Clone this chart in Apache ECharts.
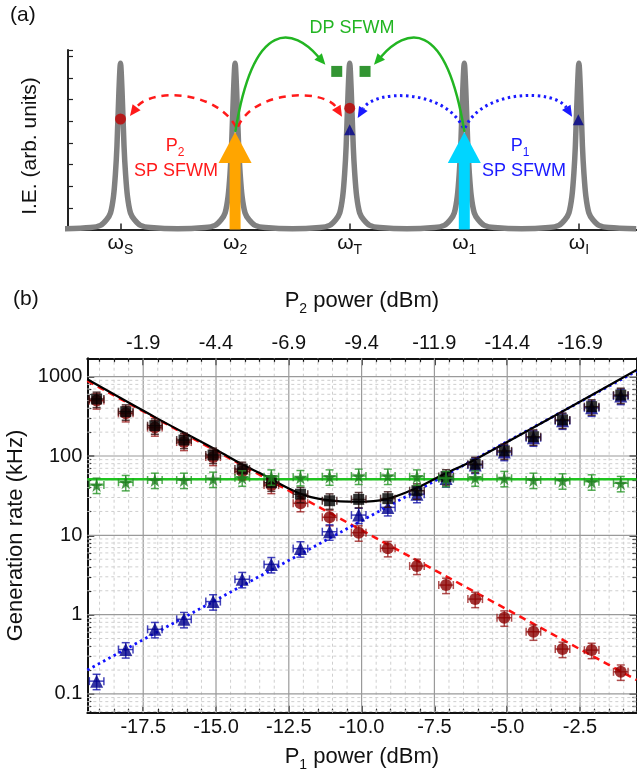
<!DOCTYPE html>
<html><head><meta charset="utf-8">
<script src="https://cdn.jsdelivr.net/npm/echarts@6/dist/echarts.min.js"></script>
<style>html,body{margin:0;padding:0;background:#fff}#c{width:637px;height:775px}</style>
</head><body><div id="c"></div>
<script>
const FONT = 'Liberation Sans, Arial, Helvetica, sans-serif';

// ---------------- Panel (a): schematic ----------------
const peakLabels = ['S', '2', 'T', '1', 'I'];
const peakPos = [0, 1, 2, 3, 4];
// resonance line shape (offset from centre, height)
const peakProfileDx = [-0.5, -0.262, -0.175, -0.122, -0.087, -0.061, -0.044, -0.031, -0.013, 0, 0.013, 0.031, 0.044, 0.061, 0.087, 0.122, 0.175, 0.262, 0.5];
const peakProfileH  = [0.03, 0.09, 0.19, 0.45, 0.77, 1.53, 2.59, 3.84, 6.48, 7.69, 6.48, 3.84, 2.59, 1.53, 0.77, 0.45, 0.19, 0.09, 0.03];
// pump arrows (position, head base, tip)
const pumpX = [1, 3];
const pumpHeadBase = [3.08, 3.08];
const pumpTip = [4.51, 4.51];
// generated photons
const sigCircles = [[0, 5.11], [2, 5.61]];
const sigTriangles = [[2, 4.61], [3.995, 5.07]];
const sigSquares = [[1.887, 7.31], [2.134, 7.31]];
// arcs: start, control 1, control 2, end (arrow tip)
const arcRed = [[1.008, 4.75, 0.82, 6.5, 0.26, 6.5, 0.083, 5.25], [1.025, 4.75, 1.17, 6.5, 1.785, 6.5, 1.933, 5.21]];
const arcBlue = [[2.99, 4.7, 2.83, 6.5, 2.22, 6.5, 2.07, 5.16], [3.007, 4.7, 3.16, 6.5, 3.79, 6.5, 3.94, 5.21]];
const arcGreen = [[1.003, 4.56, 1.168, 9.93, 1.517, 9.24, 1.788, 7.62], [3.0, 4.56, 2.832, 9.93, 2.483, 9.24, 2.212, 7.62]];

// ---------------- Panel (b): generation rates ----------------
const p1Power = [-19.1, -18.1, -17.1, -16.1, -15.1, -14.1, -13.1, -12.1, -11.1, -10.1, -9.1, -8.1, -7.1, -6.1, -5.1, -4.1, -3.1, -2.1, -1.1];
const totalRate = [523, 362, 241, 159, 103, 68.5, 46, 33, 27.3, 28.4, 29, 36.5, 55, 79, 116, 175, 285, 419, 587];
const dpRate = [43.1, 46.6, 49.8, 49.8, 51.3, 53.3, 54.8, 53.8, 54.8, 56, 56, 54.8, 52.4, 53.3, 52.4, 49.8, 48.9, 47.5, 45.3];
const sp2Rate = [500, 345, 228, 150, 97, 64, 43, 25.4, 16.9, 10.8, 6.86, 4.1, 2.36, 1.57, 0.914, 0.608, 0.368, 0.357, 0.19];
const sp1Rate = [0.145, 0.363, 0.653, 0.873, 1.46, 2.79, 4.3, 6.8, 11.1, 18, 22.5, 33, 52, 77, 112, 170, 278, 405, 570];
const ERR_FRAC = 0.22;   // relative vertical error bar
const X_ERR = 0.25;      // dBm horizontal error bar

const totalFitP1 = [-19.42, -17.07, -15.0, -14.09, -13.48, -12.15, -11.23, -10.14, -9.17, -8.14, -7.11, -6.13, -0.56];
const totalFitRate = [927, 305, 120, 78, 60.5, 34, 28, 26.5, 28.4, 39, 60.5, 89, 1214];
const dpFitP1 = [-19.42, -0.56];
const dpFitRate = [51, 51];
const sp2FitP1 = [-19.42, -0.56];
const sp2FitRate = [885, 0.15];
const sp1FitP1 = [-19.42, -0.56];
const sp1FitRate = [0.2, 1175];

const P1_MIN = -19.42, P1_MAX = -0.56;
const Y_MIN = 0.058, Y_MAX = 1706;
const p1MajorTicks = [-17.5, -15.0, -12.5, -10.0, -7.5, -5.0, -2.5];
const p2TickLabels = ['-1.9', '-4.4', '-6.9', '-9.4', '-11.9', '-14.4', '-16.9'];
const yTickValues = [0.1, 1, 10, 100, 1000];
const yTickLabels = ['0.1', '1', '10', '100', '1000'];

const p1MinorTicks = [];
for (let k = -38; k <= -2; k++) { const v = k / 2; if (!p1MajorTicks.some(t => Math.abs(t - v) < 1e-9)) p1MinorTicks.push(v); }
const yMinorTicks = [];
for (let d = -2; d <= 2; d++) for (let m = 2; m <= 9; m++) { const v = +(m * Math.pow(10, d)).toPrecision(3); if (v > Y_MIN && v < Y_MAX) yMinorTicks.push(v); }

// --------- build series data ---------
const zip = (a, b) => a.map((v, i) => [v, b[i]]);
const peakData = [];
peakPos.forEach(c => peakProfileDx.forEach((dx, i) => peakData.push([c + dx, peakProfileH[i]])));

const RED = '#ff1a1a', BLUE = '#1a1aff', GREEN = '#22b522';

function arcSeries(arcs, color, dash, width) {
  return {
    type: 'custom', xAxisIndex: 0, yAxisIndex: 0, z: 4, silent: true, clip: false,
    data: arcs.map(a => [a[0], a[1]]),
    renderItem(params, api) {
      const d = arcs[params.dataIndex];
      const p0 = api.coord([d[0], d[1]]), c1 = api.coord([d[2], d[3]]), c2 = api.coord([d[4], d[5]]), p1 = api.coord([d[6], d[7]]);
      const ang = Math.atan2(p1[1] - c2[1], p1[0] - c2[0]);
      const L = 11, W = 5;
      const b = [p1[0] - L * Math.cos(ang), p1[1] - L * Math.sin(ang)];
      const l = [b[0] + W * Math.sin(ang), b[1] - W * Math.cos(ang)];
      const r = [b[0] - W * Math.sin(ang), b[1] + W * Math.cos(ang)];
      return { type: 'group', children: [
        { type: 'bezierCurve', shape: { x1: p0[0], y1: p0[1], cpx1: c1[0], cpy1: c1[1], cpx2: c2[0], cpy2: c2[1], x2: b[0], y2: b[1] },
          style: { stroke: color, lineWidth: width, lineDash: dash, fill: null, lineCap: dash ? 'butt' : 'round' } },
        { type: 'polygon', shape: { points: [p1, l, r] }, style: { fill: color } }
      ] };
    }
  };
}

function errSeries(rates, color, z) {
  return {
    type: 'custom', xAxisIndex: 1, yAxisIndex: 1, z: z, silent: true,
    data: zip(p1Power, rates),
    renderItem(params, api) {
      const x = api.value(0), y = api.value(1);
      const t = api.coord([x, y * (1 + ERR_FRAC)]), b = api.coord([x, y * (1 - ERR_FRAC)]);
      const l = api.coord([x - X_ERR, y]), r = api.coord([x + X_ERR, y]);
      const cw = 4, st = { stroke: color, lineWidth: 1.5 };
      const ln = (x1, y1, x2, y2) => ({ type: 'line', shape: { x1, y1, x2, y2 }, style: st });
      return { type: 'group', children: [
        ln(t[0], t[1], b[0], b[1]), ln(t[0] - cw, t[1], t[0] + cw, t[1]), ln(b[0] - cw, b[1], b[0] + cw, b[1]),
        ln(l[0], l[1], r[0], r[1]), ln(l[0], l[1] - cw, l[0], l[1] + cw), ln(r[0], r[1] - cw, r[0], r[1] + cw)
      ] };
    }
  };
}

const STAR = 'path://M50,0 L61,35 L98,35 L68,57 L79,91 L50,70 L21,91 L32,57 L2,35 L39,35 Z';
const axisCol = '#111';

const subRich = (size, color) => ({
  p: { fontSize: size, color: color, fontFamily: FONT, verticalAlign: 'bottom', padding: [0, 0, 4, 0] },
  s: { fontSize: Math.round(size * 0.65), color: color, fontFamily: FONT, verticalAlign: 'bottom' }
});

const option = {
  animation: false,
  textStyle: { fontFamily: FONT },
  grid: [
    { left: 68, right: 0, top: 50, height: 179.5, outerBoundsMode: 'none', containLabel: false },
    { left: 87.3, right: 0.5, top: 358.3, height: 354.4, outerBoundsMode: 'none', containLabel: false }
  ],
  xAxis: [
    { gridIndex: 0, type: 'value', min: -0.458, max: 4.507,
      axisLine: { onZero: false, lineStyle: { color: '#222', width: 2 } },
      axisTick: { inside: true, length: 6, customValues: peakPos, lineStyle: { color: '#222', width: 1.5 } },
      axisLabel: { customValues: peakPos, margin: 3, formatter: v => '{p|ω}{s|' + peakLabels[Math.round(v)] + '}', rich: subRich(21, '#111') },
      splitLine: { show: false } },
    { gridIndex: 1, type: 'value', position: 'bottom', min: P1_MIN, max: P1_MAX,
      axisLine: { onZero: false, lineStyle: { color: axisCol, width: 2 } },
      axisTick: { inside: true, length: 7, customValues: p1MajorTicks, lineStyle: { color: axisCol, width: 1.5 } },
      axisLabel: { customValues: p1MajorTicks, formatter: v => v.toFixed(1), fontSize: 20, color: '#111', margin: 5 },
      splitLine: { show: false },
      name: '{p|P}{s|1}{p| power (dBm)}', nameLocation: 'middle', nameGap: 33,
      nameTextStyle: { rich: subRich(22, '#111') } },
    { gridIndex: 1, type: 'value', position: 'top', min: P1_MIN, max: P1_MAX,
      axisLine: { onZero: false, lineStyle: { color: axisCol, width: 2 } },
      axisTick: { inside: true, length: 7, customValues: p1MajorTicks, lineStyle: { color: axisCol, width: 1.5 } },
      axisLabel: { customValues: p1MajorTicks, formatter: v => p2TickLabels[p1MajorTicks.findIndex(t => Math.abs(t - v) < 1e-6)], fontSize: 20, color: '#111', margin: 5 },
      splitLine: { show: false },
      name: '{p|P}{s|2}{p| power (dBm)}', nameLocation: 'middle', nameGap: 42,
      nameTextStyle: { rich: subRich(22, '#111') } },
    { gridIndex: 1, type: 'value', position: 'bottom', min: P1_MIN, max: P1_MAX,
      axisLine: { show: false, onZero: false },
      axisTick: { inside: true, length: 4, customValues: p1MinorTicks, lineStyle: { color: axisCol, width: 1.2 } },
      axisLabel: { show: false }, splitLine: { show: false } },
    { gridIndex: 1, type: 'value', position: 'top', min: P1_MIN, max: P1_MAX,
      axisLine: { show: false, onZero: false },
      axisTick: { inside: true, length: 4, customValues: p1MinorTicks, lineStyle: { color: axisCol, width: 1.2 } },
      axisLabel: { show: false }, splitLine: { show: false } }
  ],
  yAxis: [
    { gridIndex: 0, type: 'value', min: 0, max: 8.3, interval: 1,
      axisLine: { show: true, onZero: false, lineStyle: { color: '#222', width: 2 } },
      axisTick: { inside: true, length: 5, lineStyle: { color: '#222', width: 1.2 } },
      axisLabel: { show: false }, splitLine: { show: false } },
    { gridIndex: 1, type: 'log', logBase: 10, position: 'left', min: Y_MIN, max: Y_MAX,
      axisLine: { show: true, onZero: false, lineStyle: { color: axisCol, width: 2 } },
      axisTick: { inside: true, length: 7, customValues: yTickValues, lineStyle: { color: axisCol, width: 1.5 } },
      axisLabel: { customValues: yTickValues, formatter: v => yTickLabels[yTickValues.findIndex(t => Math.abs(t - v) / t < 1e-6)], fontSize: 20, color: '#111', margin: 5 },
      splitLine: { show: false },
      name: 'Generation rate (kHz)', nameLocation: 'middle', nameGap: 56,
      nameTextStyle: { fontSize: 22, color: '#111' } },
    { gridIndex: 1, type: 'log', logBase: 10, position: 'right', min: Y_MIN, max: Y_MAX,
      axisLine: { show: true, onZero: false, lineStyle: { color: axisCol, width: 2 } },
      axisTick: { inside: true, length: 7, customValues: yTickValues, lineStyle: { color: axisCol, width: 1.5 } },
      axisLabel: { show: false }, splitLine: { show: false } },
    { gridIndex: 1, type: 'log', logBase: 10, position: 'left', min: Y_MIN, max: Y_MAX,
      axisLine: { show: false, onZero: false },
      axisTick: { inside: true, length: 4, customValues: yMinorTicks, lineStyle: { color: axisCol, width: 1.2 } },
      axisLabel: { show: false }, splitLine: { show: false } },
    { gridIndex: 1, type: 'log', logBase: 10, position: 'right', min: Y_MIN, max: Y_MAX,
      axisLine: { show: false, onZero: false },
      axisTick: { inside: true, length: 4, customValues: yMinorTicks, lineStyle: { color: axisCol, width: 1.2 } },
      axisLabel: { show: false }, splitLine: { show: false } }
  ],
  graphic: [
    { type: 'text', x: 10, y: 5, style: { text: '(a)', font: '21px ' + FONT, fill: '#111' } },
    { type: 'text', x: 13, y: 289, style: { text: '(b)', font: '21px ' + FONT, fill: '#111' } },
    { type: 'text', x: 30, y: 146, rotation: Math.PI / 2, style: { text: 'I.E. (arb. units)', font: '21px ' + FONT, fill: '#111', align: 'center', verticalAlign: 'middle' } },
    { type: 'text', x: 352, y: 28, style: { text: 'DP SFWM', font: '18px ' + FONT, fill: GREEN, align: 'center', verticalAlign: 'middle' } },
    { type: 'text', x: 175, y: 148, style: { text: '{p|P}{s|2}', fill: RED, align: 'center', verticalAlign: 'middle',
        rich: { p: { fontSize: 18, fontFamily: FONT, fill: RED, verticalAlign: 'bottom', padding: [0, 0, 4, 0] }, s: { fontSize: 12, fontFamily: FONT, fill: RED, verticalAlign: 'bottom' } } } },
    { type: 'text', x: 176, y: 171, style: { text: 'SP SFWM', font: '18px ' + FONT, fill: RED, align: 'center', verticalAlign: 'middle' } },
    { type: 'text', x: 520, y: 148, style: { text: '{p|P}{s|1}', fill: BLUE, align: 'center', verticalAlign: 'middle',
        rich: { p: { fontSize: 18, fontFamily: FONT, fill: BLUE, verticalAlign: 'bottom', padding: [0, 0, 4, 0] }, s: { fontSize: 12, fontFamily: FONT, fill: BLUE, verticalAlign: 'bottom' } } } },
    { type: 'text', x: 524, y: 171, style: { text: 'SP SFWM', font: '18px ' + FONT, fill: BLUE, align: 'center', verticalAlign: 'middle' } }
  ],
  series: [
    // ----- panel (a)
    { type: 'line', xAxisIndex: 0, yAxisIndex: 0, data: peakData, showSymbol: false, smooth: 0.3, silent: true, z: 2,
      lineStyle: { color: '#808080', width: 5.5, join: 'round' } },
    { type: 'custom', xAxisIndex: 0, yAxisIndex: 0, z: 3, silent: true, clip: false,
      data: pumpX.map((x, i) => [x, pumpTip[i]]),
      renderItem(params, api) {
        const i = params.dataIndex;
        const color = i === 0 ? '#ffa500' : '#00d5ff';
        const b0 = api.coord([pumpX[i], 0]), hb = api.coord([pumpX[i], pumpHeadBase[i]]), tp = api.coord([pumpX[i], pumpTip[i]]);
        const sw = 5.5, hw = 16.5;
        return { type: 'group', children: [
          { type: 'rect', shape: { x: b0[0] - sw, y: hb[1] - 1, width: 2 * sw, height: b0[1] - hb[1] + 1 }, style: { fill: color } },
          { type: 'polygon', shape: { points: [[tp[0], tp[1]], [hb[0] - hw, hb[1]], [hb[0] + hw, hb[1]]] }, style: { fill: color } }
        ] };
      } },
    arcSeries(arcRed, RED, [7, 6], 2.5),
    arcSeries(arcBlue, BLUE, [2.5, 3.5], 3),
    arcSeries(arcGreen, GREEN, null, 2.5),
    { type: 'scatter', xAxisIndex: 0, yAxisIndex: 0, data: sigCircles, symbol: 'circle', symbolSize: 11, itemStyle: { color: '#c00000' }, z: 5, silent: true },
    { type: 'scatter', xAxisIndex: 0, yAxisIndex: 0, data: sigTriangles, symbol: 'triangle', symbolSize: 11, itemStyle: { color: '#00008b' }, z: 5, silent: true },
    { type: 'scatter', xAxisIndex: 0, yAxisIndex: 0, data: sigSquares, symbol: 'rect', symbolSize: 11, itemStyle: { color: '#007a00' }, z: 5, silent: true },

    // ----- panel (b) grid lines
    { type: 'custom', xAxisIndex: 1, yAxisIndex: 1, z: 1, silent: true,
      data: p1MinorTicks.concat(p1MajorTicks).map(v => [v, 1]),
      renderItem(params, api) {
        const x = api.value(0);
        const major = p1MajorTicks.some(t => Math.abs(t - x) < 1e-9);
        const a = api.coord([x, Y_MIN]), b = api.coord([x, Y_MAX]);
        return { type: 'line', shape: { x1: a[0], y1: a[1], x2: b[0], y2: b[1] },
          style: major ? { stroke: '#9a9a9a', lineWidth: 1.2 } : { stroke: '#cfcfcf', lineWidth: 1, lineDash: [3, 3] } };
      } },
    { type: 'custom', xAxisIndex: 1, yAxisIndex: 1, z: 1, silent: true,
      data: yMinorTicks.concat(yTickValues).map(v => [P1_MIN, v]),
      renderItem(params, api) {
        const y = api.value(1);
        const major = yTickValues.some(t => Math.abs(t - y) / t < 1e-6);
        const a = api.coord([P1_MIN, y]), b = api.coord([P1_MAX, y]);
        return { type: 'line', shape: { x1: a[0], y1: a[1], x2: b[0], y2: b[1] },
          style: major ? { stroke: '#9a9a9a', lineWidth: 1.2 } : { stroke: '#cfcfcf', lineWidth: 1, lineDash: [3, 3] } };
      } },

    // ----- panel (b) theory curves
    { type: 'line', xAxisIndex: 1, yAxisIndex: 1, data: zip(dpFitP1, dpFitRate), showSymbol: false, silent: true, z: 3,
      lineStyle: { color: '#1fc41f', width: 2.5 } },
    { type: 'line', xAxisIndex: 1, yAxisIndex: 1, data: zip(sp2FitP1, sp2FitRate), showSymbol: false, silent: true, z: 3,
      lineStyle: { color: '#ff1010', width: 2.5, type: [7, 5] } },
    { type: 'line', xAxisIndex: 1, yAxisIndex: 1, data: zip(sp1FitP1, sp1FitRate), showSymbol: false, silent: true, z: 3,
      lineStyle: { color: '#1010ff', width: 2.8, type: [2.5, 3.5] } },
    { type: 'line', xAxisIndex: 1, yAxisIndex: 1, data: zip(totalFitP1, totalFitRate), showSymbol: false, silent: true, z: 3, smooth: 0.35,
      lineStyle: { color: '#000', width: 2.2 } },

    // ----- panel (b) data with error bars
    errSeries(sp2Rate, 'rgba(150,20,20,0.75)', 4),
    { type: 'scatter', xAxisIndex: 1, yAxisIndex: 1, data: zip(p1Power, sp2Rate), symbol: 'circle', symbolSize: 12, itemStyle: { color: '#8b0000' }, z: 5, silent: true },
    errSeries(sp1Rate, 'rgba(20,20,170,0.8)', 6),
    { type: 'scatter', xAxisIndex: 1, yAxisIndex: 1, data: zip(p1Power, sp1Rate), symbol: 'triangle', symbolSize: 13, itemStyle: { color: '#00008b' }, z: 7, silent: true },
    errSeries(totalRate, 'rgba(50,15,15,0.8)', 8),
    { type: 'scatter', xAxisIndex: 1, yAxisIndex: 1, data: zip(p1Power, totalRate), symbol: 'rect', symbolSize: 11, itemStyle: { color: '#000' }, z: 9, silent: true },
    errSeries(dpRate, 'rgba(40,150,40,0.8)', 10),
    { type: 'scatter', xAxisIndex: 1, yAxisIndex: 1, data: zip(p1Power, dpRate), symbol: STAR, symbolSize: 14, itemStyle: { color: '#1c7d1c' }, z: 11, silent: true }
  ]
};

const chart = echarts.init(document.getElementById('c'), null, { renderer: 'canvas' });
chart.setOption(option);
</script>
</body></html>
